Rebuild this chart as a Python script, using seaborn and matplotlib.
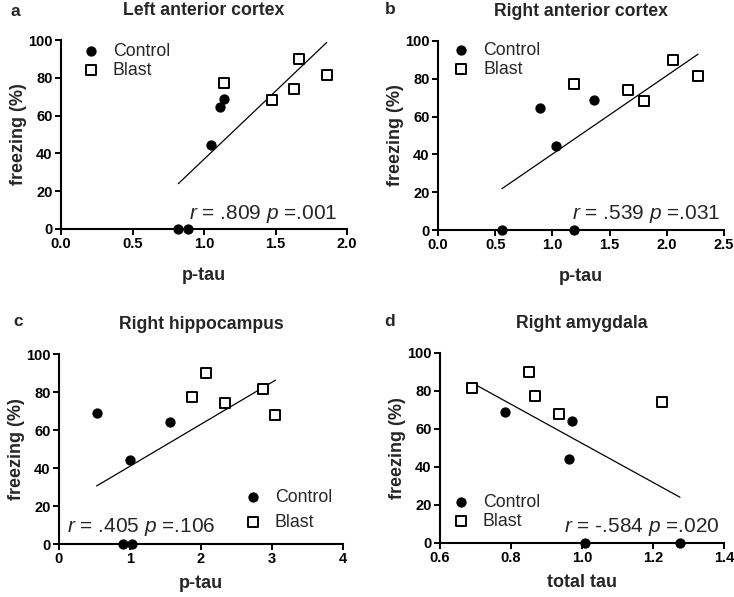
import numpy as np
import pandas as pd
import matplotlib
matplotlib.use("Agg")
import matplotlib.pyplot as plt
import seaborn as sns

# freezing (%) for the two groups, same order in every panel
freeze_ctrl = [0, 0, 44.2, 64.3, 68.8]
freeze_blast = [68.1, 74.2, 77.3, 81.7, 90.2]

# x values per panel, matched to the freezing order above
lac_ctrl = [0.82, 0.885, 1.05, 1.113, 1.141]
lac_blast = [1.475, 1.627, 1.141, 1.858, 1.664]
rac_ctrl = [0.559, 1.19, 1.03, 0.893, 1.368]
rac_blast = [1.80, 1.665, 1.187, 2.273, 2.058]
rhip_ctrl = [0.896, 1.027, 1.003, 1.557, 0.53]
rhip_blast = [3.048, 2.335, 1.871, 2.875, 2.068]
ramy_ctrl = [1.0075, 1.276, 0.963, 0.972, 0.783]
ramy_blast = [0.934, 1.225, 0.869, 0.689, 0.852]

titles = ["Left anterior cortex", "Right anterior cortex", "Right hippocampus", "Right amygdala"]
letters = ["a", "b", "c", "d"]
xlabels = ["p-tau", "p-tau", "p-tau", "total tau"]
stats = ["$r$ = .809 $p$ =.001", "$r$ = .539 $p$ =.031",
         "$r$ = .405 $p$ =.106", "$r$ = -.584 $p$ =.020"]
xticks = [[0.0, 0.5, 1.0, 1.5, 2.0], [0.0, 0.5, 1.0, 1.5, 2.0, 2.5],
          [0, 1, 2, 3, 4], [0.6, 0.8, 1.0, 1.2, 1.4]]
xtick_labels = [["0.0", "0.5", "1.0", "1.5", "2.0"],
                ["0.0", "0.5", "1.0", "1.5", "2.0", "2.5"],
                ["0", "1", "2", "3", "4"],
                ["0.6", "0.8", "1.0", "1.2", "1.4"]]
yticks = [0, 20, 40, 60, 80, 100]

sns.set_theme(style="ticks")
plt.rcParams["font.family"] = ["Liberation Sans", "DejaVu Sans"]
plt.rcParams["mathtext.fontset"] = "custom"
plt.rcParams["mathtext.rm"] = "Liberation Sans"
plt.rcParams["mathtext.it"] = "Liberation Sans:italic"

W, H = 734, 597
fig = plt.figure(figsize=(W / 100, H / 100), dpi=100)

# axes boxes in pixels: left, right, top, bottom
boxes = [(61, 347, 40, 229), (438, 724, 41, 230), (59, 343, 354, 544), (440, 724, 353, 543)]
xlabel_pads = [11, 11, 6, 6]
# legend anchor (axes fraction), row spacing, and stat text placement
leg_pos = [("upper left", (0.073, 0.985), 0.1), ("upper left", (0.05, 0.995), 0.1),
           ("lower right", (0.961, 0.07), 0.45), ("lower left", (0.042, 0.07), 0.1)]
stat_pos = [(0.965, 0.055, "right"), (0.986, 0.058, "right"),
            (0.028, 0.063, "left"), (0.986, 0.058, "right")]

panels = [(lac_ctrl, lac_blast), (rac_ctrl, rac_blast),
          (rhip_ctrl, rhip_blast), (ramy_ctrl, ramy_blast)]

for i, (xc, xb) in enumerate(panels):
    l, r, t, b = boxes[i]
    ax = fig.add_axes([l / W, (H - b) / H, (r - l) / W, (b - t) / H])

    sns.scatterplot(x=xc, y=freeze_ctrl, ax=ax, marker="o", color="black",
                    s=55, edgecolor="black", linewidth=0, label="Control",
                    clip_on=False, zorder=4)
    sns.scatterplot(x=xb, y=freeze_blast, ax=ax, marker="s", facecolor="white",
                    s=62, edgecolor="black", linewidth=1.4, label="Blast",
                    clip_on=False, zorder=4)

    df = pd.DataFrame({"x": xc + xb, "y": freeze_ctrl + freeze_blast})
    sns.regplot(data=df, x="x", y="y", ax=ax, scatter=False, ci=None,
                truncate=True, color="black", line_kws={"linewidth": 0.9})

    ax.set_xlim(xticks[i][0], xticks[i][-1])
    ax.set_ylim(0, 100)
    ax.set_xticks(xticks[i])
    ax.set_xticklabels(xtick_labels[i], fontweight="bold", fontsize=10.5)
    ax.set_yticks(yticks)
    ax.set_yticklabels([str(v) for v in yticks], fontweight="bold", fontsize=10.5)
    ax.tick_params(length=4, width=1.4, pad=2, colors="black")
    sns.despine(ax=ax)
    for side in ["left", "bottom"]:
        ax.spines[side].set_linewidth(1.5)
        ax.spines[side].set_color("black")

    ax.set_xlabel(xlabels[i], fontweight="bold", fontsize=13, labelpad=xlabel_pads[i])
    ax.set_ylabel("freezing (%)", fontweight="bold", fontsize=13, labelpad=1)
    ax.set_title(titles[i], fontweight="bold", fontsize=12.7, pad=18)

    loc, anchor, spacing = leg_pos[i]
    ax.legend(loc=loc, bbox_to_anchor=anchor, frameon=False, fontsize=12.8,
              handlelength=1.0, handletextpad=0.73, labelspacing=spacing,
              borderaxespad=0, borderpad=0)

    sx, sy, ha = stat_pos[i]
    ax.text(sx, sy, stats[i], transform=ax.transAxes, ha=ha, va="baseline",
            fontsize=15)

letter_pos = [(15, 11), (390, 10), (18, 321), (390, 321)]
for (px, py), lt in zip(letter_pos, letters):
    fig.text(px / W, 1 - py / H, lt, fontweight="bold", fontsize=12.5,
             ha="center", va="center")

fig.savefig("out.png", dpi=100)
